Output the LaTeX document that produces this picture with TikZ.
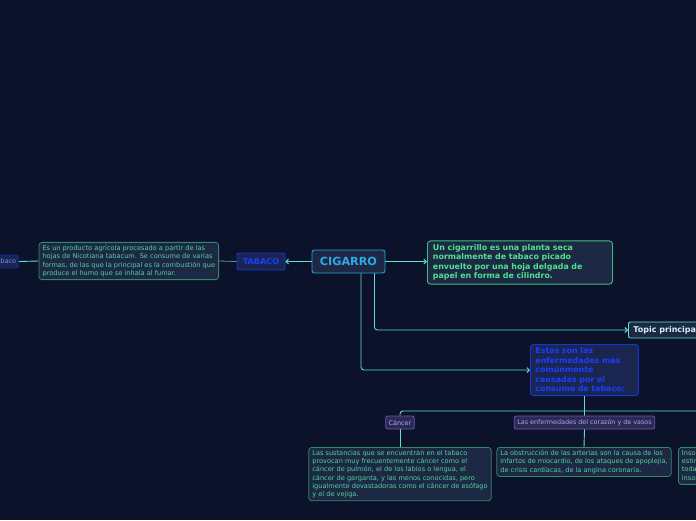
\documentclass[tikz,border=0pt]{standalone}
\usepackage{fontspec}
\setmainfont{DejaVu Sans}
\usetikzlibrary{arrows.meta,positioning,calc}
\definecolor{bg}{HTML}{0B1229}
\definecolor{wire}{HTML}{5EDFD0}
\definecolor{wiredim}{HTML}{3A9E9A}
\definecolor{boxfill}{HTML}{1D2944}
\definecolor{cigline}{HTML}{2A9FE0}
\definecolor{cigtext}{HTML}{2FA8E8}
\definecolor{blueline}{HTML}{1436D8}
\definecolor{bluetext}{HTML}{1A3EFF}
\definecolor{bluefill}{HTML}{1B2650}
\definecolor{greenline}{HTML}{2E8A6A}
\definecolor{greentext}{HTML}{4FD39C}
\definecolor{defline}{HTML}{3CBF80}
\definecolor{deftext}{HTML}{4FE28E}
\definecolor{purpline}{HTML}{6A58A8}
\definecolor{purpfill}{HTML}{2A2A55}
\definecolor{purptext}{HTML}{B7A2E8}

\tikzset{
  conn/.style={wire, line width=0.9pt, rounded corners=3pt},
  tip/.style={-{Straight Barb[length=2.5pt,width=5pt]}},
  central/.style={draw=cigline, fill=boxfill, line width=0.9pt, rounded corners=2.5pt,
    text=cigtext, font=\fontsize{11.2}{12}\selectfont\bfseries,
    minimum width=73pt, minimum height=23pt, inner sep=2pt},
  mainsub/.style={draw=blueline, fill=bluefill, line width=0.9pt, rounded corners=2pt,
    text=bluetext, font=\fontsize{8.1}{9}\selectfont\bfseries,
    minimum width=48pt, minimum height=17pt, inner sep=2pt},
  leaf/.style={draw=blueline!70!bg, fill=bluefill, line width=0.7pt, rounded corners=2pt,
    text=bluetext!60!white, font=\fontsize{6.4}{7}\selectfont,
    minimum height=13pt, inner sep=2.5pt},
  note/.style={draw=greenline, fill=boxfill, line width=0.8pt, rounded corners=3pt,
    text=greentext, font=\fontsize{6.6}{8.2}\selectfont, align=left,
    inner xsep=3.5pt, inner ysep=3pt},
  defbox/.style={draw=defline, fill=boxfill, line width=0.9pt, rounded corners=3pt,
    text=deftext, font=\fontsize{7.9}{9.5}\selectfont\bfseries, align=left,
    text width=174pt, inner xsep=5.5pt, inner ysep=3.5pt},
  topic/.style={draw=wire, fill=boxfill, line width=0.9pt, rounded corners=2pt,
    text=wire!30!white, font=\fontsize{8}{9}\selectfont\bfseries,
    minimum height=16pt, inner xsep=5pt},
  ques/.style={draw=blueline, fill=bluefill, line width=0.9pt, rounded corners=3pt,
    text=bluetext, font=\fontsize{7.9}{9.5}\selectfont\bfseries, align=left,
    text width=98pt, inner xsep=5pt, inner ysep=3.5pt},
  cat/.style={draw=purpline, fill=purpfill, line width=0.8pt, rounded corners=2pt,
    text=purptext, font=\fontsize{6.4}{7}\selectfont,
    minimum height=13pt, inner xsep=3pt, inner ysep=1pt},
}

\begin{document}
\begin{tikzpicture}[x=1pt,y=-1pt]
  \clip (0,0) rectangle (696,520);
  \fill[bg] (0,0) rectangle (696,520);

  % central topic and left branch
  \node[central] (cig) at (348.5,261.5) {CIGARRO};
  \node[mainsub] (tab) at (261,261.5) {TABACO};
  \node[note, anchor=east] (tabnote) at (219,261) {Es un producto agrícola procesado a partir de las\\hojas de Nicotiana tabacum. Se consume de varias\\formas, de las que la principal es la combustión que\\produce el humo que se inhala al fumar.};
  \node[leaf, anchor=east] (tableaf) at (19,261.5) {Tabaco};

  % right branches
  \node[defbox, anchor=west] (def) at (427,262.5) {Un cigarrillo es una planta seca\\normalmente de tabaco picado\\envuelto por una hoja delgada de\\papel en forma de cilindro.};
  \node[topic, anchor=west] (top) at (628,330) {Topic principal};
  \node[ques, anchor=west] (est) at (530,370) {Estas son las\\enfermedades más\\comúnmente\\causadas por el\\consumo de tabaco:};

  % diseases
  \coordinate (busend) at (720,411);
  \node[cat] (can) at (400,422.5) {Cáncer};
  \node[cat] (enf) at (584.5,422.5) {Las enfermedades del corazón y de vasos};
  \node[note, anchor=north] (canx) at (400,447) {Las sustancias que se encuentran en el tabaco\\provocan muy frecuentemente cáncer como el\\cáncer de pulmón, el de los labios o lengua, el\\cáncer de garganta, y las menos conocidas, pero\\igualmente devastadoras como el cáncer de esófago\\y el de vejiga.};
  \node[note, anchor=north] (enfx) at (584,447) {La obstrucción de las arterias son la causa de los\\infartos de miocardio, de los ataques de apoplejía,\\de crisis cardíacas, de la angina coronaria.};
  \node[note, anchor=north west] (insx) at (678,447) {Insomnio: la nicotina es un\\estimulante que altera\\todas las fases del sueño,\\insomnio y somnolencia.};

  % connectors
  \draw[conn, tip] (cig.west) -- (tab.east);
  \draw[wiredim, line width=0.8pt] (tab.west) -- (tabnote.east);
  \draw[conn] (tabnote.west) -- (tableaf.east);
  \draw[conn, tip] (cig.east) -- (cig.east -| def.west);
  \draw[conn, tip] ([xshift=-11pt]cig.south east) |- (top.west);
  \draw[conn, tip] ([xshift=12.5pt]cig.south) |- (est.west);
  \draw[conn] (est.south) -- (enf.north);
  \draw[conn] (can.north) |- (busend);
  \draw[conn] (can.south) -- (canx.north);
  \draw[conn] (enf.south) -- (enfx.north);
\end{tikzpicture}
\end{document}
